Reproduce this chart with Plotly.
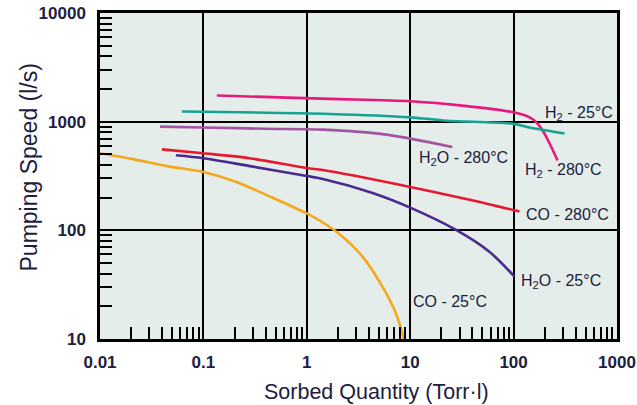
import numpy as np
import plotly.graph_objects as go

# ---------------- data ----------------
h2_280_x = [0.135, 1.67, 10, 32, 100, 143, 167, 191, 223, 266]
h2_280_y = [1740, 1620, 1540, 1406, 1219, 1096, 980, 830, 630, 440]

h2_25_x = [0.062, 1.67, 10, 22.5, 100, 143, 311]
h2_25_y = [1240, 1178, 1096, 1021, 955, 884, 778]

h2o_280_x = [0.038, 0.1, 0.4, 1.43, 5.9, 25.5]
h2o_280_y = [900, 885, 860, 845, 760, 585]

co_280_x = [0.0397, 0.1, 0.281, 1.0, 1.43, 10, 37.6, 114]
co_280_y = [556, 512, 461, 374, 359, 251, 191, 149]

h2o_25_x = [0.0542, 0.1, 0.281, 1.0, 1.43, 4.33, 10, 27.2, 57.9, 102]
h2o_25_y = [491, 461, 390, 316, 297, 221, 162, 102, 64, 37.5]

co_25_x = [0.01, 0.0208, 0.0444, 0.1, 0.208, 0.444, 1.0, 1.43, 2.08, 3.47, 5.42, 7.24, 8.47, 8.7]
co_25_y = [512, 452, 390, 344, 279, 204, 143, 118, 92, 57, 30, 17.4, 10.9, 9.8]

series_names = ["H2 - 280°C", "H2 - 25°C", "H2O - 280°C", "CO - 280°C", "H2O - 25°C", "CO - 25°C"]
series_x = [h2_280_x, h2_25_x, h2o_280_x, co_280_x, h2o_25_x, co_25_x]
series_y = [h2_280_y, h2_25_y, h2o_280_y, co_280_y, h2o_25_y, co_25_y]
series_colors = ["#e8197d", "#16a394", "#a455a1", "#e8192f", "#4a2a8f", "#f5a81c"]

label_texts = ["H<sub>2</sub> - 280°C", "H<sub>2</sub> - 25°C", "H<sub>2</sub>O - 280°C",
               "CO - 280°C", "H<sub>2</sub>O - 25°C", "CO - 25°C"]
label_x = [122, 190.5, 11.6, 125, 114, 10.1]
label_y = [359, 1186, 461, 140, 33.7, 22]

x_tickvals = [0.01, 0.1, 1, 10, 100, 1000]
x_ticktext = ["0.01", "0.1", "1", "10", "100", "1000"]
y_tickvals = [10, 100, 1000, 10000]
y_ticktext = ["10", "100", "1000", "10000"]

x_title = "Sorbed Quantity (Torr·l)"
y_title = "Pumping Speed (l/s)"

# minor ticks 2..9 in every decade
x_minor = [m * 10.0 ** e for e in range(-2, 3) for m in range(2, 10)]
y_minor = [m * 10.0 ** e for e in range(1, 4) for m in range(2, 10)]

# ---------------- figure ----------------
fig = go.Figure()
for name, xs, ys, col in zip(series_names, series_x, series_y, series_colors):
    fig.add_trace(go.Scatter(x=xs, y=ys, mode="lines", name=name,
                             line=dict(color=col, width=2.6, shape="spline", smoothing=0.8),
                             hoverinfo="skip"))

ink = "#1d2040"
font_fam = "Liberation Sans, Arial, sans-serif"
axis_common = dict(
    type="log", showline=True, linecolor="black", linewidth=2.5, mirror=True,
    showgrid=True, gridcolor="black", gridwidth=2, zeroline=False, automargin=False,
    ticks="", tickfont=dict(family=font_fam, size=17, color=ink, weight="bold"),
)
fig.update_xaxes(range=[-2, 3], tickmode="array", tickvals=x_tickvals, ticktext=x_ticktext,
                 ticklabelstandoff=6,
                 minor=dict(tickmode="array", tickvals=x_minor, ticks="inside", ticklen=12,
                            tickwidth=1.6, tickcolor="black", showgrid=False),
                 **axis_common)
fig.update_yaxes(range=[1, 4], tickmode="array", tickvals=y_tickvals, ticktext=y_ticktext,
                 ticklabelstandoff=8,
                 minor=dict(tickmode="array", tickvals=y_minor, ticks="inside", ticklen=12,
                            tickwidth=1.6, tickcolor="black", showgrid=False),
                 **axis_common)

bg = "#e4ede9"
# gaps in gridlines around labels (masking rectangles between grid and traces)
masks = [
    dict(x0=0.835, x1=0.994, y0=0.655, y1=0.683),   # y=1000 line near H2 - 25°C
    dict(x0=0.588, x1=0.603, y0=0.004, y1=0.156),   # x=10 line near CO - 25°C
    dict(x0=0.787, x1=0.802, y0=0.156, y1=0.233),   # x=100 line near H2O - 25°C
]
for m in masks:
    fig.add_shape(type="rect", xref="paper", yref="paper", layer="between",
                  fillcolor=bg, line=dict(width=0), **m)
# short green marker at 10 Torr-l
fig.add_shape(type="line", xref="x", yref="paper", x0=1, x1=1, y0=0, y1=0.067,
              line=dict(color="#1f9a45", width=1.6), layer="between")

for t, lx, ly in zip(label_texts, label_x, label_y):
    fig.add_annotation(x=np.log10(lx), y=np.log10(ly), xref="x", yref="y", text=t,
                       showarrow=False, xanchor="left", yanchor="middle",
                       font=dict(family=font_fam, size=16, color=ink))

fig.add_annotation(text=x_title, showarrow=False, xref="paper", yref="paper",
                   x=(376 - 100) / 517, y=(339 - 392) / 326, xanchor="center", yanchor="middle",
                   font=dict(family=font_fam, size=21.5, color=ink))
fig.add_annotation(text=y_title, showarrow=False, textangle=-90, xref="paper", yref="paper",
                   x=(28 - 100) / 517, y=(339 - 167.5) / 326, xanchor="center", yanchor="middle",
                   font=dict(family=font_fam, size=23, color=ink))

fig.update_layout(
    width=637, height=405,
    margin=dict(l=100, r=20, t=13, b=66, autoexpand=False),
    paper_bgcolor="white", plot_bgcolor=bg,
    showlegend=False,
)

fig.write_html("out.html", config={"displayModeBar": False},
               post_script="document.body.style.margin='0';document.body.style.overflow='hidden';")
